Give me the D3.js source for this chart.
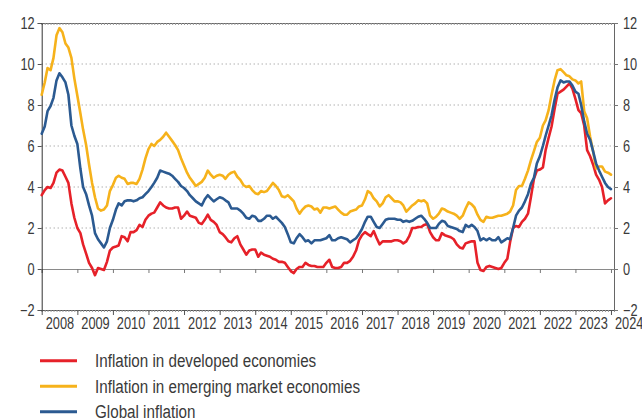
<!DOCTYPE html>
<html>
<head>
<meta charset="utf-8">
<script src="https://cdn.jsdelivr.net/npm/d3@7"></script>
<style>
  body { margin: 0; background: #fff; }
  svg text { font-family: "Liberation Sans", Arial, sans-serif; fill: #3a3a3a; }
</style>
</head>
<body>
<div id="chart"></div>
<script>
// year labels on the x axis
var years = [2008, 2009, 2010, 2011, 2012, 2013, 2014, 2015, 2016, 2017, 2018, 2019, 2020, 2021, 2022, 2023, 2024];
var yTicks = [-2, 0, 2, 4, 6, 8, 10, 12];
var gridValues = [2, 4, 6, 8, 10];

// monthly values, Jan 2008 .. Jan 2024
var developed = [
  3.6, 3.85, 4.0, 3.95, 4.2, 4.7, 4.85, 4.8, 4.5, 4.2, 3.2, 2.5,        // 2008
  2.0, 1.75, 1.2, 0.75, 0.3, 0.05, -0.3, 0.05, 0.0, -0.05, 0.35, 0.9,   // 2009
  1.05, 1.1, 1.15, 1.6, 1.55, 1.35, 1.8, 1.8, 1.9, 2.15, 2.05, 2.4,     // 2010
  2.6, 2.7, 2.75, 3.0, 3.25, 3.1, 3.0, 2.95, 2.95, 3.0, 3.0, 2.45,      // 2011
  2.6, 2.8, 2.6, 2.55, 2.5, 2.25, 2.2, 2.4, 2.65, 2.4, 2.3, 2.15,       // 2012
  1.8, 1.7, 1.55, 1.35, 1.3, 1.5, 1.6, 1.2, 0.95, 0.7, 0.9, 0.95,       // 2013
  0.95, 0.6, 0.8, 0.7, 0.65, 0.6, 0.5, 0.45, 0.35, 0.35, 0.3, 0.1,      // 2014
  -0.1, -0.2, 0.0, 0.1, 0.1, 0.3, 0.2, 0.15, 0.15, 0.1, 0.1, 0.1,       // 2015
  0.3, 0.45, 0.1, 0.05, 0.05, 0.1, 0.3, 0.3, 0.4, 0.6, 0.9, 1.4,        // 2016
  1.65, 1.8, 1.7, 1.6, 1.85, 1.5, 1.2, 1.35, 1.35, 1.35, 1.35, 1.4,     // 2017
  1.4, 1.35, 1.25, 1.35, 1.6, 2.0, 2.0, 2.05, 2.05, 2.15, 2.2, 1.8,     // 2018
  1.55, 1.4, 1.4, 1.75, 1.65, 1.6, 1.55, 1.45, 1.2, 1.05, 1.0, 1.25,    // 2019
  1.3, 1.35, 1.35, 0.3, -0.05, -0.1, 0.1, 0.15, 0.1, 0.05, 0.0, 0.05,   // 2020
  0.3, 0.5, 1.3, 2.0, 2.1, 2.05, 2.3, 2.45, 2.7, 3.5, 4.4, 4.8,         // 2021
  4.85, 4.95, 5.8, 6.4, 6.95, 7.8, 8.55, 8.65, 8.75, 8.9, 9.05, 8.8,    // 2022
  8.3, 7.75, 7.6, 7.0, 5.8, 5.5, 5.1, 4.6, 4.35, 4.0, 3.2, 3.35,        // 2023
  3.45                                                                  // 2024
];

var emerging = [
  8.5, 9.1, 9.8, 9.7, 10.3, 11.4, 11.75, 11.55, 11.0, 10.8, 10.3, 9.3,  // 2008
  8.45, 7.6, 6.8, 6.05, 5.1, 4.2, 3.5, 2.95, 2.85, 2.9, 3.1, 3.8,       // 2009
  4.1, 4.45, 4.55, 4.45, 4.4, 4.15, 4.2, 4.2, 4.15, 4.4, 4.85, 5.4,     // 2010
  5.85, 6.1, 6.0, 6.2, 6.3, 6.45, 6.65, 6.45, 6.25, 6.05, 5.8, 5.4,     // 2011
  5.05, 4.7, 4.45, 4.25, 4.05, 4.15, 4.25, 4.45, 4.8, 4.6, 4.45, 4.55,  // 2012
  4.6, 4.55, 4.4, 4.6, 4.7, 4.75, 4.5, 4.35, 4.1, 4.0, 4.05, 3.85,      // 2013
  3.7, 3.65, 3.8, 3.75, 3.8, 4.0, 4.2, 4.05, 3.85, 3.55, 3.5, 3.6,      // 2014
  3.45, 3.3, 2.95, 2.7, 2.9, 3.05, 3.1, 3.05, 2.9, 2.95, 2.75, 3.0,     // 2015
  3.0, 2.95, 3.0, 3.05, 2.9, 2.75, 2.65, 2.65, 2.8, 2.85, 2.9, 3.05,    // 2016
  3.1, 3.4, 3.8, 3.7, 3.45, 3.3, 3.05, 3.2, 3.5, 3.6, 3.45, 3.3,        // 2017
  3.3, 3.25, 3.1, 2.8, 2.95, 3.1, 3.2, 3.35, 3.3, 3.35, 3.2, 2.6,       // 2018
  2.45, 2.55, 2.7, 2.95, 2.9, 2.8, 2.75, 2.7, 2.6, 2.45, 2.6, 2.95,     // 2019
  3.25, 3.15, 3.0, 2.65, 2.4, 2.3, 2.55, 2.5, 2.5, 2.55, 2.6, 2.6,      // 2020
  2.65, 2.7, 2.8, 3.1, 3.85, 4.05, 4.05, 4.4, 4.8, 5.3, 5.75, 6.2,      // 2021
  6.4, 7.0, 7.25, 7.75, 8.5, 9.2, 9.7, 9.75, 9.6, 9.45, 9.4, 9.25,      // 2022
  9.2, 9.05, 9.15, 7.7, 7.35, 6.45, 5.75, 4.9, 5.0, 5.0, 4.75, 4.7,     // 2023
  4.6                                                                   // 2024
];

var globalInf = [
  6.6, 6.95, 7.7, 7.95, 8.35, 9.2, 9.55, 9.35, 9.1, 8.5, 7.0, 6.5,      // 2008
  6.1, 4.9, 4.0, 3.65, 3.1, 2.6, 1.75, 1.45, 1.25, 1.05, 1.35, 2.0,     // 2009
  2.4, 2.9, 3.2, 3.1, 3.3, 3.35, 3.35, 3.3, 3.35, 3.45, 3.5, 3.65,      // 2010
  3.8, 4.0, 4.2, 4.45, 4.8, 4.75, 4.7, 4.65, 4.55, 4.4, 4.25, 4.05,     // 2011
  3.95, 3.8, 3.6, 3.45, 3.3, 3.2, 3.1, 3.4, 3.6, 3.45, 3.3, 3.4,        // 2012
  3.5, 3.45, 3.35, 3.25, 2.95, 2.95, 2.95, 2.85, 2.7, 2.5, 2.45, 2.6,   // 2013
  2.55, 2.35, 2.35, 2.45, 2.6, 2.6, 2.45, 2.55, 2.4, 2.25, 2.05, 1.7,   // 2014
  1.3, 1.25, 1.5, 1.7, 1.55, 1.35, 1.4, 1.25, 1.4, 1.4, 1.4, 1.45,      // 2015
  1.5, 1.65, 1.4, 1.4, 1.5, 1.55, 1.5, 1.45, 1.3, 1.4, 1.5, 1.7,        // 2016
  1.95, 2.3, 2.55, 2.55, 2.3, 2.05, 2.0, 2.2, 2.4, 2.45, 2.45, 2.45,    // 2017
  2.4, 2.4, 2.3, 2.35, 2.3, 2.35, 2.45, 2.55, 2.6, 2.45, 2.25, 2.0,     // 2018
  2.0, 2.0, 2.2, 2.35, 2.3, 2.1, 2.05, 2.0, 1.95, 1.85, 1.8, 2.15,      // 2019
  2.05, 2.15, 2.05, 1.85, 1.4, 1.5, 1.4, 1.5, 1.4, 1.4, 1.55, 1.3,      // 2020
  1.4, 1.5, 1.45, 2.0, 2.6, 2.85, 3.0, 3.3, 3.65, 4.15, 4.45, 5.15,     // 2021
  5.5, 6.0, 6.5, 7.0, 7.5, 8.25, 8.85, 9.2, 9.1, 9.15, 9.15, 8.95,      // 2022
  8.65, 8.55, 8.0, 7.2, 6.6, 6.3, 5.75, 5.15, 4.8, 4.5, 4.2, 4.0,       // 2023
  3.9                                                                   // 2024
];

var seriesNames = ["Inflation in developed economies", "Inflation in emerging market economies", "Global inflation"];
var seriesColors = ["#e62129", "#f6b21b", "#2b5a91"];

var width = 642, height = 419;
var plotLeft = 41.7, plotRight = 614, plotTop = 23, plotBottom = 310;
var squeeze = 0.8;   // the original type is a condensed face

var svg = d3.select("#chart").append("svg")
    .attr("width", width)
    .attr("height", height);

var months = developed.map(function(d, i) { return new Date(2008, i, 1); });

var x = d3.scaleTime()
    .domain([new Date(2008, 0, 1), new Date(2024, 1, 1)])
    .range([plotLeft, plotRight]);
var y = d3.scaleLinear()
    .domain([-2, 12])
    .range([plotBottom, plotTop]);

///////////// grid /////////////
svg.append("g").selectAll("line")
    .data(gridValues)
  .enter().append("line")
    .attr("x1", plotLeft).attr("x2", plotRight)
    .attr("y1", function(d) { return y(d); })
    .attr("y2", function(d) { return y(d); })
    .attr("stroke", "#8c8c8c")
    .attr("stroke-width", 1)
    .attr("stroke-dasharray", "1,3");

// top line with monthly hatch
var topAxis = svg.append("g")
    .attr("transform", "translate(0," + y(12) + ")")
    .call(d3.axisBottom(x).ticks(d3.timeMonth.every(1)).tickSize(2).tickFormat(""));
topAxis.selectAll("line").attr("stroke", "#999");
topAxis.select(".domain").attr("stroke", "#666");

// zero line with year ticks
var zeroAxis = svg.append("g")
    .attr("transform", "translate(0," + y(0) + ")")
    .call(d3.axisBottom(x).ticks(d3.timeYear.every(1)).tickSize(4).tickFormat(""));
zeroAxis.selectAll("line").attr("stroke", "#777");
zeroAxis.select(".domain").attr("stroke", "#8a8a8a");

// bottom line: monthly hatch + year ticks
var bottomMinor = svg.append("g")
    .attr("transform", "translate(0," + y(-2) + ")")
    .call(d3.axisBottom(x).ticks(d3.timeMonth.every(1)).tickSize(2).tickFormat(""));
bottomMinor.selectAll("line").attr("stroke", "#999");
bottomMinor.select(".domain").attr("stroke", "#555");

var bottomAxis = svg.append("g")
    .attr("transform", "translate(0," + y(-2) + ")")
    .call(d3.axisBottom(x).ticks(d3.timeYear.every(1)).tickSize(5).tickFormat(""));
bottomAxis.selectAll("line").attr("stroke", "#555");
bottomAxis.select(".domain").remove();

// year labels centred in each year
var yearLabels = svg.append("g")
    .attr("transform", "translate(0," + y(-2) + ")")
    .call(d3.axisBottom(x)
        .tickValues(years.map(function(d) { return new Date(d, 6, 1); }))
        .tickSize(0).tickPadding(8)
        .tickFormat(d3.timeFormat("%Y")));
yearLabels.attr("font-family", null);
yearLabels.select(".domain").remove();
yearLabels.selectAll("text")
    .attr("font-size", 16)
    .attr("fill", "#3a3a3a")
    .attr("transform", "scale(" + squeeze + ",1)");

///////////// y axes /////////////
var leftAxis = svg.append("g")
    .attr("transform", "translate(" + plotLeft + ",0)")
    .call(d3.axisLeft(y).tickValues(yTicks).tickSize(4).tickPadding(4.8).tickFormat(d3.format("d")));
leftAxis.attr("font-family", null);
leftAxis.select(".domain").attr("stroke", "#333");
leftAxis.selectAll("line").attr("stroke", "#555");
leftAxis.selectAll("text")
    .attr("font-size", 16)
    .attr("fill", "#3a3a3a")
    .attr("transform", "scale(" + squeeze + ",1)");

var rightAxis = svg.append("g")
    .attr("transform", "translate(" + plotRight + ",0)")
    .call(d3.axisRight(y).tickValues(yTicks).tickSize(4).tickPadding(7.2).tickFormat(d3.format("d")));
rightAxis.attr("font-family", null);
rightAxis.select(".domain").attr("stroke", "#666");
rightAxis.selectAll("line").attr("stroke", "#777");
rightAxis.selectAll("text")
    .attr("font-size", 16)
    .attr("fill", "#3a3a3a")
    .attr("transform", "scale(" + squeeze + ",1)");

///////////// lines /////////////
var line = d3.line()
    .x(function(d, i) { return x(months[i]); })
    .y(function(d) { return y(d); });

var allSeries = [developed, emerging, globalInf];

svg.append("g").selectAll("path")
    .data(allSeries)
  .enter().append("path")
    .attr("d", line)
    .attr("fill", "none")
    .attr("stroke", function(d, i) { return seriesColors[i]; })
    .attr("stroke-width", 2.6)
    .attr("stroke-linejoin", "round")
    .attr("stroke-linecap", "round");

///////////// legend /////////////
var legend = svg.append("g").selectAll("g")
    .data(seriesNames)
  .enter().append("g")
    .attr("transform", function(d, i) { return "translate(0," + (360.7 + i * 25.5) + ")"; });

legend.append("line")
    .attr("x1", 40).attr("x2", 77)
    .attr("stroke", function(d, i) { return seriesColors[i]; })
    .attr("stroke-width", 3);

legend.append("text")
    .attr("transform", "translate(95,6.5) scale(" + squeeze + ",1)")
    .attr("font-size", 19)
    .text(function(d) { return d; });
</script>
</body>
</html>
